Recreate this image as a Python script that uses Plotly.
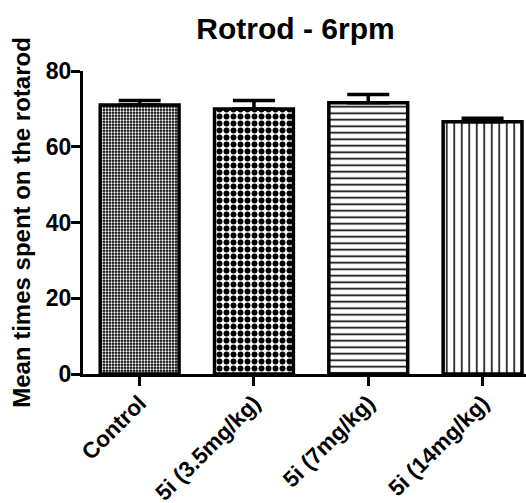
import plotly.graph_objects as go

categories = ["Control", "5i (3.5mg/kg)", "5i (7mg/kg)", "5i (14mg/kg)"]
means = [71.0, 70.0, 71.6, 66.6]
sems = [1.2, 2.2, 2.2, 0.9]
y_ticks = [0, 20, 40, 60, 80]

title_text = "Rotrod - 6rpm"
y_title = "Mean times spent on the rotarod"

pat_shapes = [".", ".", "-", "|"]
pat_fg = ["white", "black", "black", "black"]
pat_bg = ["black", "white", "white", "white"]
pat_size = [3, 7, 6.5, 7.5]
pat_solid = [0.45, 0.55, 0.25, 0.2]

FONT = "Liberation Sans, Arial, sans-serif"

fig = go.Figure()
fig.add_trace(go.Bar(
    x=list(range(len(categories))),
    y=means,
    width=0.69,
    marker=dict(
        color="white",
        line=dict(color="black", width=3.5),
        pattern=dict(
            shape=pat_shapes,
            fgcolor=pat_fg,
            bgcolor=pat_bg,
            size=pat_size,
            solidity=pat_solid,
            fgopacity=1,
        ),
    ),
    error_y=dict(
        type="data", symmetric=False, array=sems,
        arrayminus=[0] * len(sems),
        color="black", thickness=3.5, width=21,
    ),
    showlegend=False,
))

fig.update_layout(
    width=526, height=503,
    margin=dict(l=83, r=0, t=71, b=129, autoexpand=False),
    paper_bgcolor="white", plot_bgcolor="white",
    font=dict(family=FONT, color="black"),
    title=dict(
        text="<b>" + title_text + "</b>",
        font=dict(size=30, family=FONT, color="black"),
        x=295.5 / 526, xref="container", xanchor="center",
        y=1 - 28 / 503, yref="container", yanchor="middle",
    ),
)

fig.update_xaxes(
    range=[-0.4956, 3.38],
    automargin=False,
    tickmode="array",
    tickvals=list(range(len(categories))),
    ticktext=["<b>" + c + "</b>" for c in categories],
    tickangle=-45,
    tickfont=dict(size=22.5, family=FONT, color="black"),
    showline=True, linecolor="black", linewidth=3,
    ticks="outside", ticklen=9, tickwidth=3, tickcolor="black",
    ticklabelstandoff=-5,
    showgrid=False, zeroline=False,
)

fig.update_yaxes(
    range=[0, 80],
    automargin=False,
    tickmode="array",
    tickvals=y_ticks,
    ticktext=["<b>%d</b>" % v for v in y_ticks],
    tickfont=dict(size=23, family=FONT, color="black"),
    showline=True, linecolor="black", linewidth=3,
    ticks="outside", ticklen=9, tickwidth=3, tickcolor="black",
    ticklabelstandoff=-5,
    showgrid=False, zeroline=False,
    title=dict(text="<b>" + y_title + "</b>",
               font=dict(size=24, family=FONT, color="black"),
               standoff=9),
)

fig.write_html(
    "out.html",
    config={"displayModeBar": False},
    post_script="document.body.style.margin='0px';document.body.style.padding='0px';",
)
